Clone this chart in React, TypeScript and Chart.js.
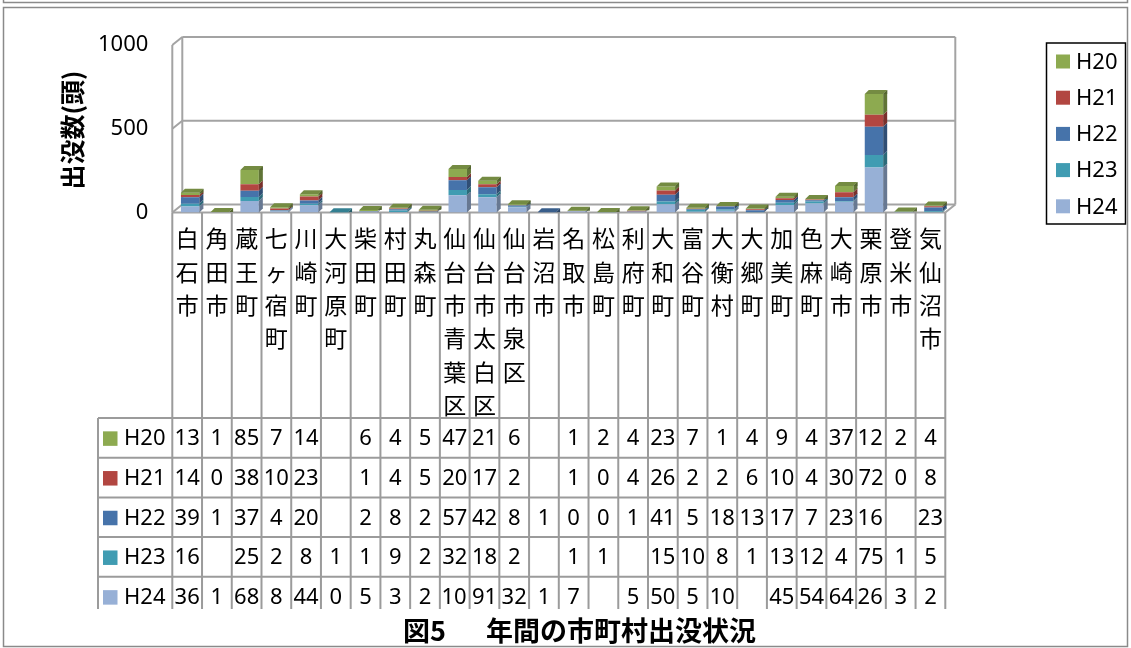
import React, { useEffect, useRef } from "react";
import { Chart, registerables } from "chart.js";

Chart.register(...registerables);

// Municipalities (x categories)
const municipalities = [
  "白石市", "角田市", "蔵王町", "七ヶ宿町", "川崎町", "大河原町", "柴田町", "村田町", "丸森町",
  "仙台市青葉区", "仙台市太白区", "仙台市泉区", "岩沼市", "名取市", "松島町", "利府町", "大和町",
  "富谷町", "大衡村", "大郷町", "加美町", "色麻町", "大崎市", "栗原市", "登米市", "気仙沼市",
];

// Sightings per fiscal year (null = no record)
const h20 = [13, 1, 85, 7, 14, null, 6, 4, 5, 47, 21, 6, null, 1, 2, 4, 23, 7, 1, 4, 9, 4, 37, 124, 2, 4];
const h21 = [14, 0, 38, 10, 23, null, 1, 4, 5, 20, 17, 2, null, 1, 0, 4, 26, 2, 2, 6, 10, 4, 30, 72, 0, 8];
const h22 = [39, 1, 37, 4, 20, null, 2, 8, 2, 57, 42, 8, 1, 0, 0, 1, 41, 5, 18, 13, 17, 7, 23, 169, null, 23];
const h23 = [16, null, 25, 2, 8, 1, 1, 9, 2, 32, 18, 2, null, 1, 1, null, 15, 10, 8, 1, 13, 12, 4, 75, 1, 5];
const h24 = [36, 1, 68, 8, 44, 0, 5, 3, 2, 103, 91, 32, 1, 7, null, 5, 50, 5, 10, null, 45, 54, 64, 268, 3, 2];

const yTicks = [0, 500, 1000];
const yTitle = "出没数(頭)";
const figureNo = "図5";
const figureTitle = "年間の市町村出没状況";

// Series stacked bottom-to-top
const seriesLabels = ["H24", "H23", "H22", "H21", "H20"];
const seriesValues = [h24, h23, h22, h21, h20];
const seriesColors = ["#97B0D6", "#409CB2", "#4673AA", "#B24641", "#8DAA50"];

const LATIN = '"Noto Sans", "Noto Sans CJK JP", sans-serif';
const CJK = '"Noto Sans CJK JP", "Noto Sans", sans-serif';

// geometry of the pseudo-3D frame and the data table under it
const SHIFT = 3;
const WALL_DX = 10;
const WALL_DY = 8;
const BAR_DX = 4;
const BAR_DY = 4;
const LABEL_FIRST_Y = 238.5;
const LABEL_STEP = 33.4;
const TABLE_TOP = 418;
const ROW_H = 39.7;
const TABLE_KEY_LEFT = 98;
const TABLE_CUT = 609;

function shade(hex: string, f: number): string {
  const n = parseInt(hex.slice(1), 16);
  const r = Math.round(((n >> 16) & 255) * f);
  const g = Math.round(((n >> 8) & 255) * f);
  const b = Math.round((n & 255) * f);
  return `rgb(${r},${g},${b})`;
}

function line(ctx: CanvasRenderingContext2D, x1: number, y1: number, x2: number, y2: number) {
  ctx.beginPath();
  ctx.moveTo(x1, y1);
  ctx.lineTo(x2, y2);
  ctx.stroke();
}

function columns(chart: any) {
  const { chartArea } = chart;
  const n = municipalities.length;
  const colW = (chartArea.right - chartArea.left) / n;
  const left = chartArea.left - SHIFT;
  return { n, colW, left, right: left + colW * n };
}

const wallsPlugin = {
  id: "walls3d",
  beforeDatasetsDraw(chart: any) {
    const { ctx, scales } = chart;
    const y = scales.y;
    const { left: L, right: R } = columns(chart);
    const y0 = y.getPixelForValue(yTicks[0]);
    ctx.save();
    ctx.strokeStyle = "#a3a3a3";
    ctx.lineWidth = 2;
    // back wall and left wall edges
    const yTop = y.getPixelForValue(yTicks[yTicks.length - 1]);
    line(ctx, L, yTop, L, y0);
    line(ctx, L + WALL_DX, yTop - WALL_DY, L + WALL_DX, y0 - WALL_DY);
    line(ctx, R + WALL_DX, yTop - WALL_DY, R + WALL_DX, y0 - WALL_DY);
    // gridlines on the back wall with slants on the side wall
    for (const v of yTicks.slice(1)) {
      const py = y.getPixelForValue(v);
      line(ctx, L + WALL_DX, py - WALL_DY, R + WALL_DX, py - WALL_DY);
      line(ctx, L, py, L + WALL_DX, py - WALL_DY);
    }
    // floor
    line(ctx, L + WALL_DX, y0 - WALL_DY, R + WALL_DX, y0 - WALL_DY);
    line(ctx, L, y0, L + WALL_DX, y0 - WALL_DY);
    line(ctx, R, y0, R + WALL_DX, y0 - WALL_DY);
    line(ctx, L, y0, R, y0);
    ctx.restore();
  },
};

const barDepthPlugin = {
  id: "barDepth",
  afterDatasetsDraw(chart: any) {
    const { ctx } = chart;
    const ds = chart.data.datasets;
    ctx.save();
    for (let i = 0; i < municipalities.length; i++) {
      let topIdx = -1;
      for (let d = 0; d < ds.length; d++) {
        if (ds[d].data[i] == null) continue;
        topIdx = d;
        const el = chart.getDatasetMeta(d).data[i] as any;
        const { x, y, base, width } = el.getProps(["x", "y", "base", "width"], true);
        const xr = x + width / 2;
        if (Math.abs(base - y) > 0.2) {
          ctx.fillStyle = shade(seriesColors[d], 0.68);
          ctx.beginPath();
          ctx.moveTo(xr, y);
          ctx.lineTo(xr + BAR_DX, y - BAR_DY);
          ctx.lineTo(xr + BAR_DX, base - BAR_DY);
          ctx.lineTo(xr, base);
          ctx.closePath();
          ctx.fill();
        }
      }
      if (topIdx >= 0) {
        const el = chart.getDatasetMeta(topIdx).data[i] as any;
        const { x, y, width } = el.getProps(["x", "y", "width"], true);
        const xl = x - width / 2;
        const xr = x + width / 2;
        ctx.fillStyle = shade(seriesColors[topIdx], 0.82);
        ctx.beginPath();
        ctx.moveTo(xl, y);
        ctx.lineTo(xl + BAR_DX, y - BAR_DY);
        ctx.lineTo(xr + BAR_DX, y - BAR_DY);
        ctx.lineTo(xr, y);
        ctx.closePath();
        ctx.fill();
        ctx.fillStyle = shade(seriesColors[topIdx], 0.6);
        ctx.beginPath();
        ctx.moveTo(xr, y);
        ctx.lineTo(xr + BAR_DX, y - BAR_DY);
        ctx.lineTo(xr + BAR_DX, y);
        ctx.closePath();
        ctx.fill();
      }
    }
    ctx.restore();
  },
};

function fitText(ctx: CanvasRenderingContext2D, s: string, maxW: number) {
  let t = s;
  while (t.length > 1 && ctx.measureText(t).width > maxW) t = t.slice(0, -1);
  return t;
}

const tablePlugin = {
  id: "dataTable",
  afterDraw(chart: any) {
    const { ctx, scales } = chart;
    const { n, colW, left: L, right: R } = columns(chart);
    const y0 = scales.y.getPixelForValue(0);
    const ds = chart.data.datasets;
    ctx.save();

    // grid of the category row and the data table
    ctx.strokeStyle = "#9b9b9b";
    ctx.lineWidth = 2;
    for (let i = 0; i <= n; i++) {
      const x = L + i * colW;
      line(ctx, x, y0, x, TABLE_CUT);
    }
    line(ctx, TABLE_KEY_LEFT, TABLE_TOP, TABLE_KEY_LEFT, TABLE_CUT);
    for (let r = 0; r < ds.length; r++) {
      const yy = TABLE_TOP + r * ROW_H;
      line(ctx, TABLE_KEY_LEFT, yy, R, yy);
    }

    // vertical category names
    ctx.fillStyle = "#000";
    ctx.textAlign = "center";
    ctx.textBaseline = "middle";
    ctx.font = `23px ${CJK}`;
    municipalities.forEach((name, i) => {
      const cx = L + (i + 0.5) * colW;
      Array.from(name).forEach((ch, k) => {
        ctx.fillText(ch, cx, LABEL_FIRST_Y + k * LABEL_STEP);
      });
    });

    // table rows, newest series last
    const order = ds.map((_: any, d: number) => d).reverse();
    order.forEach((d: number, r: number) => {
      const cy = TABLE_TOP + (r + 0.5) * ROW_H + 1;
      ctx.fillStyle = seriesColors[d];
      ctx.fillRect(103, cy - 7.5, 14.5, 14.5);
      ctx.fillStyle = "#000";
      ctx.font = `22px ${LATIN}`;
      ctx.textAlign = "left";
      ctx.fillText(ds[d].label, 124, cy);
      ds[d].data.forEach((v: number | null, i: number) => {
        if (v == null) return;
        const s = String(v);
        const maxW = colW - 2;
        const shown = fitText(ctx, s, maxW);
        if (shown !== s) {
          ctx.textAlign = "left";
          ctx.fillText(shown, L + i * colW + 1.5, cy);
        } else {
          ctx.textAlign = "center";
          ctx.fillText(s, L + (i + 0.5) * colW, cy);
        }
      });
    });

    // legend box on the right
    ctx.strokeStyle = "#000";
    ctx.lineWidth = 1.5;
    ctx.strokeRect(1046.5, 43, 79, 181);
    order.forEach((d: number, r: number) => {
      const cy = 61.5 + r * 36.2;
      ctx.fillStyle = seriesColors[d];
      ctx.fillRect(1056, cy - 7, 14, 14);
      ctx.fillStyle = "#000";
      ctx.font = `22px ${LATIN}`;
      ctx.textAlign = "left";
      ctx.fillText(ds[d].label, 1076, cy + 1);
    });

    // axis title
    ctx.save();
    ctx.translate(72, 130);
    ctx.rotate(-Math.PI / 2);
    ctx.font = `bold 25px ${CJK}`;
    ctx.textAlign = "center";
    ctx.fillText(yTitle, 0, 0);
    ctx.restore();

    // figure caption
    ctx.font = `bold 27px ${CJK}`;
    ctx.textAlign = "left";
    ctx.fillText(figureNo, 403, 631);
    ctx.fillText(figureTitle, 486, 631);

    // outer frames
    ctx.strokeStyle = "#8a8a8a";
    ctx.lineWidth = 1.5;
    ctx.beginPath();
    ctx.moveTo(3.5, 0);
    ctx.lineTo(3.5, 2.5);
    ctx.lineTo(1127.5, 2.5);
    ctx.lineTo(1127.5, 0);
    ctx.stroke();
    ctx.strokeRect(3.5, 7.5, 1124, 639);
    ctx.restore();
  },
};

export default function App() {
  const ref = useRef<HTMLCanvasElement>(null);

  useEffect(() => {
    const canvas = ref.current;
    if (!canvas) return;
    const chart = new Chart(canvas, {
      type: "bar",
      data: {
        labels: municipalities,
        datasets: seriesLabels.map((label, d) => ({
          label,
          data: seriesValues[d],
          backgroundColor: seriesColors[d],
          borderWidth: 0,
          categoryPercentage: 1,
          barPercentage: 0.62,
        })),
      },
      options: {
        animation: false,
        responsive: false,
        devicePixelRatio: 1,
        layout: { padding: { top: 45, right: 182.7, bottom: 435.5, left: 0 } },
        plugins: { legend: { display: false }, tooltip: { enabled: false } },
        scales: {
          x: { stacked: true, display: false },
          y: {
            stacked: true,
            min: yTicks[0],
            max: yTicks[yTicks.length - 1],
            afterFit: (s: any) => {
              s.width = 175.3;
            },
            afterBuildTicks: (s: any) => {
              s.ticks = yTicks.map((v) => ({ value: v }));
            },
            grid: { display: false, drawTicks: false },
            border: { display: false },
            ticks: {
              padding: 27,
              color: "#000",
              font: { family: LATIN, size: 22 },
              callback: (v: any) => String(v),
            },
          },
        },
      },
      plugins: [wallsPlugin, barDepthPlugin, tablePlugin],
    });
    return () => chart.destroy();
  }, []);

  return (
    <div style={{ position: "fixed", left: 0, top: 0, width: 1131, height: 648, background: "#fff" }}>
      <canvas ref={ref} width={1131} height={648} style={{ display: "block" }} />
    </div>
  );
}
